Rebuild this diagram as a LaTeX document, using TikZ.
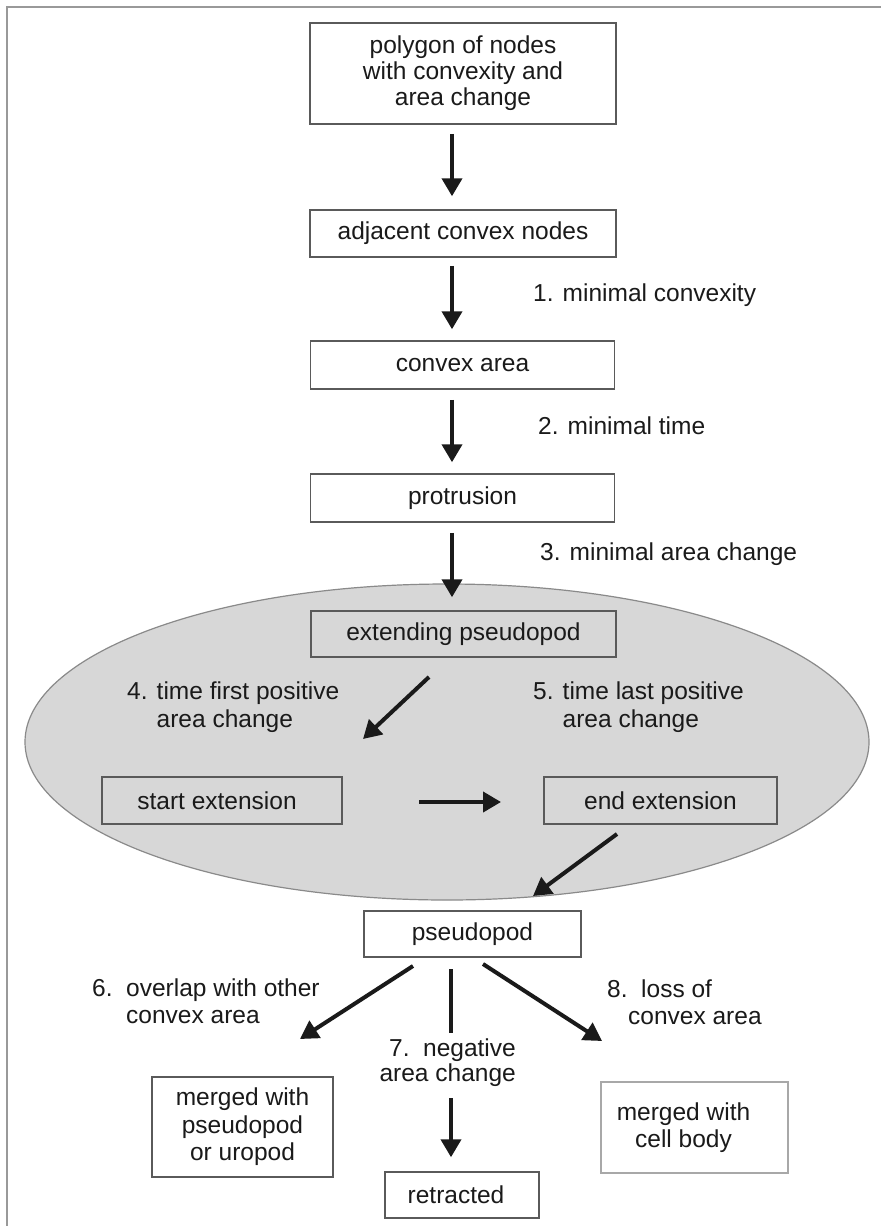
\documentclass[tikz,border=0pt]{standalone}
\usepackage{fontspec}
\setmainfont{Liberation Sans}
\usetikzlibrary{arrows.meta}
\definecolor{txt}{HTML}{1A1A1A}
\definecolor{boxline}{HTML}{5A5A5A}
\definecolor{ellfill}{HTML}{D7D7D7}
\definecolor{ellline}{HTML}{8A8A8A}
\definecolor{framec}{HTML}{999999}
\definecolor{lightbox}{HTML}{A8A8A8}
\begin{document}
\begin{tikzpicture}[x=1pt,y=-1pt,
  every node/.style={font=\fontsize{24.5}{27}\selectfont, text=txt},
  stepbox/.style={draw=boxline, line width=1.5pt, inner sep=0pt, align=center},
  lbl/.style={inner sep=0pt, align=left, anchor=north west},
  arr/.style={draw=txt, line width=4pt, -{Triangle[length=18pt,width=20pt]}},
  plainline/.style={draw=txt, line width=4pt}
]
\useasboundingbox (0,0) rectangle (881,1226);
\fill[white] (0,0) rectangle (881,1226);
\draw[framec, line width=2pt] (7,1226) -- (7,7) -- (881,7);

% grey ellipse
\draw[fill=ellfill, draw=ellline, line width=1.2pt] (447,742) ellipse [x radius=422pt, y radius=158pt];

% boxes
\node[stepbox, minimum width=306pt, minimum height=101pt, font=\fontsize{24.5}{26}\selectfont] (b1) at (463,73.5) {polygon of nodes\\with convexity and\\area change};
\node[stepbox, minimum width=306pt, minimum height=47pt] (b2) at (463,233.5) {adjacent convex nodes};
\node[stepbox, minimum width=304pt, minimum height=48pt] (b3) at (462.5,365) {convex area};
\node[stepbox, minimum width=304pt, minimum height=48pt] (b4) at (462.5,498) {protrusion};
\node[stepbox, minimum width=305pt, minimum height=46pt] (ext) at (463.5,634) {extending pseudopod};
\node[stepbox, minimum width=240pt, minimum height=47pt] (start) at (222,800.5) {start extension\hspace*{10pt}};
\node[stepbox, minimum width=233pt, minimum height=47pt] (end) at (660.5,800.5) {end extension};
\node[stepbox, minimum width=217pt, minimum height=46pt] (pseudo) at (472.5,934) {pseudopod};
\node[stepbox, minimum width=181pt, minimum height=100pt, font=\fontsize{24.5}{27.5}\selectfont] (mergedP) at (242.5,1127) {merged with\\pseudopod\\or uropod};
\node[stepbox, minimum width=154pt, minimum height=46pt] (retr) at (462,1195) {retracted\hspace*{12pt}};
\node[stepbox, draw=lightbox, minimum width=187pt, minimum height=91pt] (mergedC) at (694.5,1127.5) {merged with\hspace*{22pt}\\cell body\hspace*{22pt}};

% vertical connectors
\coordinate (ax) at (452,0);
\draw[arr, shorten <=9pt, shorten >=13pt] (b1.south -| ax) -- (b2.north -| ax);
\draw[arr, shorten <=8pt, shorten >=11pt] (b2.south -| ax) -- (b3.north -| ax);
\draw[arr, shorten <=10pt, shorten >=11pt] (b3.south -| ax) -- (b4.north -| ax);
\draw[arr, shorten <=10pt, shorten >=13pt] (b4.south -| ax) -- (ext.north -| ax);

% diagonal / free-ended connectors
\coordinate (c5s) at (429,677);  \coordinate (c5e) at (363,739);
\coordinate (c6s) at (419,802);  \coordinate (c6e) at (501,802);
\coordinate (c7s) at (617,834);  \coordinate (c7e) at (533,896);
\coordinate (c8s) at (413,966);  \coordinate (c8e) at (300,1039);
\coordinate (c9s) at (451,969);  \coordinate (c9e) at (451,1033);
\coordinate (c10s) at (451,1098);
\coordinate (c11s) at (483,964); \coordinate (c11e) at (602,1041);
\draw[arr] (c5s) -- (c5e);
\draw[arr] (c6s) -- (c6e);
\draw[arr] (c7s) -- (c7e);
\draw[arr] (c8s) -- (c8e);
\draw[plainline] (c9s) -- (c9e);
\draw[arr, shorten >=14pt] (c10s) -- (c10s |- retr.north);
\draw[arr] (c11s) -- (c11e);

% labels
\node[inner sep=0pt, anchor=base west] (l1) at (533,301) {1. minimal convexity};
\node[inner sep=0pt, anchor=base west] (l2) at (538,434) {2. minimal time};
\node[inner sep=0pt, anchor=base west] (l3) at (540,560) {3. minimal area change};
\node[lbl, font=\fontsize{24.5}{28}\selectfont] (l4) at (127,682) {4. time first positive\\\hphantom{4. }area change};
\node[lbl, font=\fontsize{24.5}{28}\selectfont] (l5) at (533,682) {5. time last positive\\\hphantom{5. }area change};
\node[lbl] (l6) at (92,979) {6.\ \ overlap with other\\\hphantom{6.\ \ }convex area};
\node[inner sep=0pt, align=right, anchor=north east, font=\fontsize{24.5}{25}\selectfont] (l7) at (516,1039) {7.\ \ negative\\area change};
\node[lbl] (l8) at (607,980) {8.\ \ loss of\\\hspace*{21pt}convex area};
\end{tikzpicture}
\end{document}
